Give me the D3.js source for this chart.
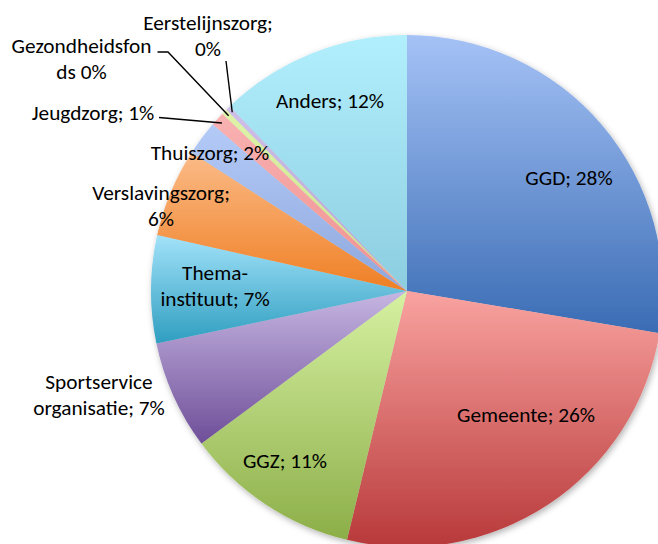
<!DOCTYPE html>
<html>
<head>
<meta charset="utf-8">
<script src="https://cdn.jsdelivr.net/npm/d3@7/dist/d3.min.js"></script>
<style>
  html, body { margin: 0; padding: 0; background: #fff; }
  svg { display: block; }
  text { font-family: Carlito, Lato, "Liberation Sans", sans-serif; fill: #000; }
</style>
</head>
<body>
<svg id="chart" width="658" height="544"></svg>
<script>
// ---- data ----
const categories = ["GGD", "Gemeente", "GGZ", "Sportservice organisatie", "Thema-instituut",
  "Verslavingszorg", "Thuiszorg", "Jeugdzorg", "Gezondheidsfonds", "Eerstelijnszorg", "Anders"];
const values = [27.7, 26.2, 11.1, 6.9, 6.8, 5.6, 2.2, 0.9, 0.35, 0.3, 12.2];
// label text lines (as wrapped in the original)
const labelLines = [
  ["GGD; {p}%"], ["Gemeente; {p}%"], ["GGZ; {p}%"], ["Sportservice", "organisatie; {p}%"],
  ["Thema-", "instituut; {p}%"], ["Verslavingszorg;", "{p}%"], ["Thuiszorg; {p}%"],
  ["Jeugdzorg; {p}%"], ["Gezondheidsfon", "ds {p}%"], ["Eerstelijnszorg;", "{p}%"], ["Anders; {p}%"]
];
// gradient colours: [top, bottom]
const colorsTop = ["#a5c2f6", "#f9a3a0", "#d6f1a2", "#c6b6e2", "#a2e2f9", "#fbbb88", "#b4cbf8", "#f9b2b2", "#def3a8", "#cfc0e8", "#b2effd"];
const colorsBottom = ["#3a6cb4", "#b8393a", "#8cae48", "#6e4e98", "#2f9ec0", "#ef7f24", "#8ea7dc", "#f08f8f", "#c9e18a", "#b19fd2", "#8ccde0"];

// ---- layout ----
const W = 658, H = 544;
const cx = 407, cy = 291, R = 256;
// label centre offsets from pie centre
const labelOffsets = [[162, -113], [119, 124], [-122, 170], [-308, 104], [-192, -5], [-246, -85],
  [-197, -138], [-314, -178], [-325.5, -232], [-199, -255], [-77, -190]];
// leader line start points (offset from centre); null = no leader
const leaderStarts = [null, null, null, null, null, null, null,
  [[-248, -173.5]], [[-249.5, -239], [-239, -239]], [[-181, -230]], null];
const lineH = 26;
const fontSize = 21.3;

const svg = d3.select("#chart");
const defs = svg.append("defs");

const shadow = defs.append("filter").attr("id", "shadow")
  .attr("x", "-10%").attr("y", "-10%").attr("width", "130%").attr("height", "130%");
shadow.append("feDropShadow").attr("dx", 1.5).attr("dy", 2.5).attr("stdDeviation", 3)
  .attr("flood-color", "#000").attr("flood-opacity", 0.3);

categories.forEach((c, i) => {
  const g = defs.append("linearGradient").attr("id", "grad" + i)
    .attr("x1", 0).attr("y1", 0).attr("x2", 0).attr("y2", 1);
  g.append("stop").attr("offset", "0%").attr("stop-color", colorsTop[i]);
  g.append("stop").attr("offset", "100%").attr("stop-color", colorsBottom[i]);
});

const total = d3.sum(values);
const pie = d3.pie().sort(null).value(d => d).startAngle(0).endAngle(2 * Math.PI);
const arcs = pie(values);
const arc = d3.arc().innerRadius(0).outerRadius(R);

const g = svg.append("g").attr("transform", `translate(${cx},${cy})`);
const slices = g.append("g").attr("filter", "url(#shadow)");
slices.selectAll("path").data(arcs).join("path")
  .attr("d", arc)
  .attr("fill", (d, i) => `url(#grad${i})`);

// leader lines
arcs.forEach((a, i) => {
  if (!leaderStarts[i]) return;
  const mid = (a.startAngle + a.endAngle) / 2;
  const end = [250 * Math.sin(mid), -250 * Math.cos(mid)];
  const pts = leaderStarts[i].concat([end]);
  g.append("path")
    .attr("d", d3.line()(pts))
    .attr("fill", "none").attr("stroke", "#000").attr("stroke-width", 1.4);
});

// labels
arcs.forEach((a, i) => {
  const pct = Math.round(values[i] / total * 100);
  const lines = labelLines[i].map(s => s.replace("{p}", pct));
  const [ox, oy] = labelOffsets[i];
  const t = g.append("text")
    .attr("text-anchor", "middle")
    .attr("font-size", fontSize);
  lines.forEach((ln, k) => {
    t.append("tspan")
      .attr("x", ox)
      .attr("y", oy + (k - (lines.length - 1) / 2) * lineH)
      .attr("dy", "0.35em")
      .text(ln);
  });
});
</script>
</body>
</html>
